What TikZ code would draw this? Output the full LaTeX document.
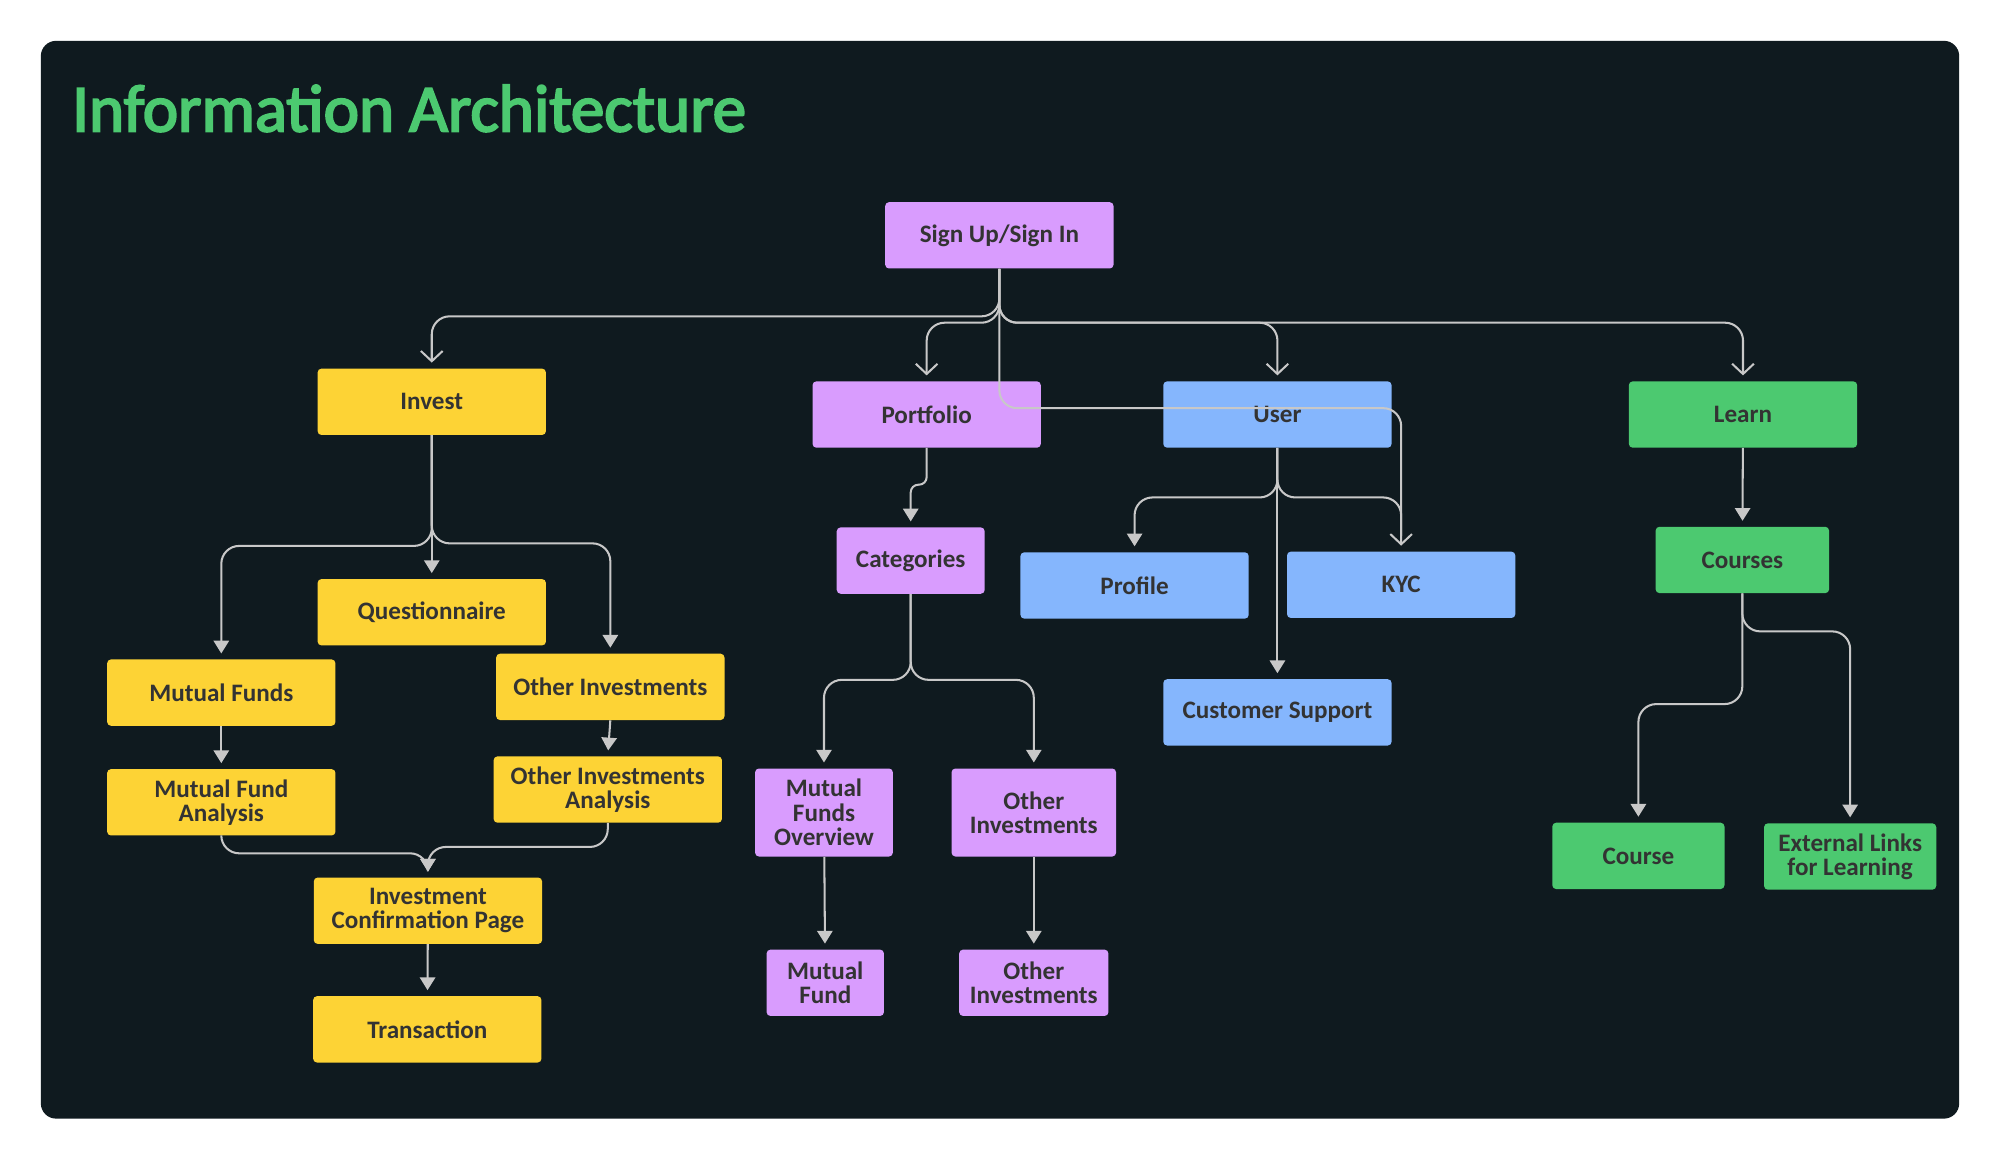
\documentclass[tikz,border=0pt]{standalone}
\usepackage{fontspec}
\setmainfont{Carlito}
\usetikzlibrary{arrows.meta}
\definecolor{bg}{HTML}{0F1A1F}
\definecolor{pyellow}{HTML}{FDD335}
\definecolor{pviolet}{HTML}{D99CFE}
\definecolor{pblue}{HTML}{85B6FD}
\definecolor{pgreen}{HTML}{4CC970}
\definecolor{txt}{HTML}{333333}
\definecolor{linkgray}{HTML}{C8C8C8}
\newfontfamily\titlefont[FakeBold=3]{Carlito}
\begin{document}
\begin{tikzpicture}[x=1pt,y=-1pt,
  box/.style={rectangle,rounded corners=3pt,minimum width=179pt,minimum height=52pt,inner sep=0pt,align=center,text=txt,font=\fontsize{19.7}{19}\selectfont\bfseries},
  link/.style={draw=linkgray,line width=1.6pt,rounded corners=14pt,-{Triangle[length=10pt,width=12pt]},shorten >=4.5pt},
  openlink/.style={link,-{Straight Barb[length=8pt,width=17pt,line width=1.6pt]}}]
\useasboundingbox (0,0) rectangle (1568,909.5);
\fill[white] (0,0) rectangle (1568,909.5);
\fill[bg,rounded corners=12pt] (32,32) rectangle (1536,877);
\node[anchor=base west,text=pgreen,font=\titlefont\fontsize{52.5}{52.5}\selectfont] (title) at (53,103) {Information Architecture};

\node[box,fill=pviolet] (signup) at (783.5,184.5) {Sign Up/Sign In};
\node[box,fill=pyellow] (invest) at (338.5,315) {Invest};
\node[box,fill=pviolet] (portfolio) at (726.5,325) {Portfolio};
\node[box,fill=pblue] (user) at (1001.5,325) {User};
\node[box,fill=pgreen] (learn) at (1366.5,325) {Learn};
\node[box,fill=pyellow] (quest) at (338.5,480) {Questionnaire};
\node[box,fill=pyellow] (mf) at (173.5,543) {Mutual Funds};
\node[box,fill=pyellow] (oi) at (478.5,538.5) {Other Investments};
\node[box,fill=pyellow] (mfa) at (173.5,629) {Mutual Fund\\Analysis};
\node[box,fill=pyellow] (oia) at (476.5,619) {Other Investments\\Analysis};
\node[box,fill=pyellow] (icp) at (335.5,714) {Investment\\Confirmation Page};
\node[box,fill=pyellow] (trans) at (335,807) {Transaction};
\node[box,fill=pviolet,minimum width=116pt] (cat) at (714,439.5) {Categories};
\node[box,fill=pviolet,minimum width=108pt,minimum height=69pt] (mfo) at (646,637) {Mutual\\Funds\\Overview};
\node[box,fill=pviolet,minimum width=129pt,minimum height=69pt] (oip) at (810.5,637) {Other\\Investments};
\node[box,fill=pviolet,minimum width=92pt] (mfund) at (647,770.5) {Mutual\\Fund};
\node[box,fill=pviolet,minimum width=117pt] (oib) at (810.5,770.5) {Other\\Investments};
\node[box,fill=pblue] (profile) at (889.5,459) {Profile};
\node[box,fill=pblue] (kyc) at (1098.5,458.5) {KYC};
\node[box,fill=pblue] (cs) at (1001.5,558.5) {Customer Support};
\node[box,fill=pgreen,minimum width=136pt] (courses) at (1366,439) {Courses};
\node[box,fill=pgreen,minimum width=135pt] (course) at (1284.5,671) {Course};
\node[box,fill=pgreen,minimum width=135pt] (ext) at (1450.5,671.5) {External Links\\for Learning};

\draw[openlink] (signup.south) |- (invest.north |- 0,248) -- (invest.north);
\draw[openlink] (signup.south) |- (portfolio.north |- 0,253) -- (portfolio.north);
\draw[openlink] (signup.south) |- (user.north |- 0,253) -- (user.north);
\draw[openlink] (signup.south) |- (learn.north |- 0,253) -- (learn.north);
\draw[openlink] (signup.south) |- (kyc.north |- 0,320) -- (kyc.north);

\draw[link] (invest.south) |- (mf.north |- 0,428) -- (mf.north);
\draw[link] (invest.south) -- (quest.north);
\draw[link] (invest.south) |- (oi.north |- 0,426) -- (oi.north);
\draw[link] (mf) -- (mfa);
\draw[link] (oi.south) -- (oia.north);
\draw[link] (mfa.south) |- (icp.north |- 0,669) -- (icp.north);
\draw[link] (oia.south) |- (icp.north |- 0,664) -- (icp.north);
\draw[link] (icp) -- (trans);

\draw[link,rounded corners=6pt] (portfolio.south) |- (cat.north |- 0,380) -- (cat.north);
\draw[link] (cat.south) |- (mfo.north |- 0,533) -- (mfo.north);
\draw[link] (cat.south) |- (oip.north |- 0,533) -- (oip.north);
\draw[link] (mfo) -- (mfund);
\draw[link] (oip) -- (oib);

\draw[link] (user.south) |- (profile.north |- 0,390) -- (profile.north);
\draw[link,-,shorten >=12pt] (user.south) |- (kyc.north |- 0,390) -- (kyc.north);
\draw[link] (user) -- (cs);

\draw[link] (learn) -- (courses);
\draw[link] (courses.south) |- (course.north |- 0,552) -- (course.north);
\draw[link] (courses.south) |- (ext.north |- 0,495) -- (ext.north);
\end{tikzpicture}
\end{document}
